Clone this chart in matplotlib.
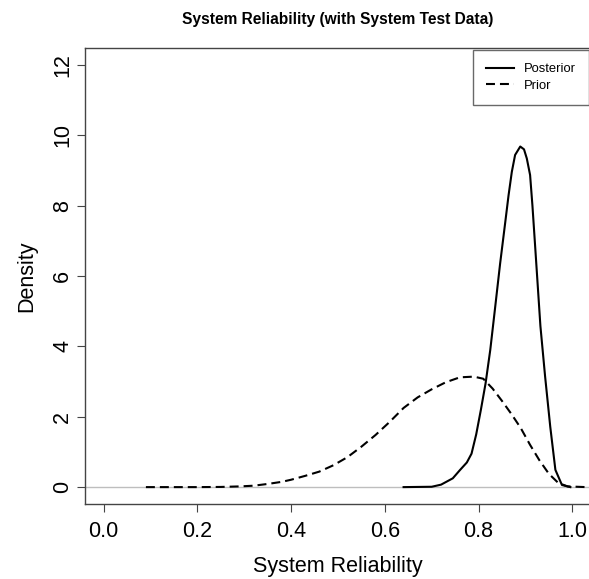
import numpy as np
import matplotlib.pyplot as plt

plt.rcParams['font.family'] = ['Liberation Sans', 'DejaVu Sans']

# ---- data ----
prior_x = [0.09, 0.15, 0.20, 0.25, 0.29, 0.32, 0.35, 0.38, 0.40, 0.43, 0.46, 0.49,
           0.52, 0.55, 0.58, 0.61, 0.64, 0.67, 0.70, 0.73, 0.76, 0.79, 0.81, 0.83,
           0.85, 0.87, 0.89, 0.91, 0.93, 0.95, 0.97, 0.99, 1.03]
prior_y = [0.0, 0.0, 0.0, 0.005, 0.02, 0.04, 0.09, 0.15, 0.21, 0.32, 0.44, 0.62,
           0.85, 1.15, 1.48, 1.85, 2.25, 2.55, 2.78, 2.98, 3.12, 3.14, 3.08, 2.80,
           2.45, 2.08, 1.68, 1.20, 0.76, 0.38, 0.12, 0.02, 0.0]

post_x = [0.64, 0.70, 0.72, 0.745, 0.76, 0.775, 0.785, 0.795, 0.805, 0.815, 0.825,
          0.835, 0.846, 0.857, 0.864, 0.871, 0.878, 0.889, 0.897, 0.903, 0.910,
          0.915, 0.921, 0.932, 0.942, 0.953, 0.964, 0.978, 0.996]
post_y = [0.0, 0.01, 0.07, 0.25, 0.48, 0.70, 0.95, 1.50, 2.20, 2.95, 3.90,
          5.06, 6.35, 7.53, 8.29, 8.96, 9.44, 9.68, 9.60, 9.34, 8.87,
          8.00, 6.80, 4.58, 3.15, 1.72, 0.49, 0.06, 0.0]

xticks = [0.0, 0.2, 0.4, 0.6, 0.8, 1.0]
yticks = [0, 2, 4, 6, 8, 10, 12]

# ---- figure ----
fig = plt.figure(figsize=(5.89, 5.79), dpi=100)
ax = fig.add_axes([85 / 589, 1 - 504 / 579, 506 / 589, 456 / 579])

ax.axhline(0, color='#bebebe', lw=1, zorder=1)
ax.plot(post_x, post_y, color='black', lw=1.5, label='Posterior', zorder=3)
ax.plot(prior_x, prior_y, color='black', lw=1.5, ls=(0, (4.3, 2.4)),
        label='Prior', zorder=3)

ax.set_xlim(-0.04, 1.04)
ax.set_ylim(-0.48, 12.48)
ax.set_xticks(xticks)
ax.set_xticklabels(['%.1f' % v for v in xticks])
ax.set_yticks(yticks)
ax.set_yticklabels([str(v) for v in yticks], rotation=90, va='center')

for s in ax.spines.values():
    s.set_color('#444444')
    s.set_linewidth(1)
ax.tick_params(direction='out', length=6, width=0.8, color='#444444',
               labelsize=15.5)
ax.tick_params(axis='x', pad=6)
ax.tick_params(axis='y', pad=2.5)

ax.set_xlabel('System Reliability', fontsize=15.5, labelpad=10)
ax.set_ylabel('Density', fontsize=15.5, labelpad=11)
ax.set_title('System Reliability (with System Test Data)', fontsize=11.2,
             fontweight='bold', pad=17.5)

leg = ax.legend(loc='upper right', fontsize=9.4, frameon=True, fancybox=False,
                handlelength=2.1, handletextpad=0.8, borderpad=1.0,
                labelspacing=0.35, borderaxespad=0.15)
leg.get_frame().set_edgecolor('#444444')
leg.get_frame().set_linewidth(1)

plt.savefig('out.png', dpi=100)
